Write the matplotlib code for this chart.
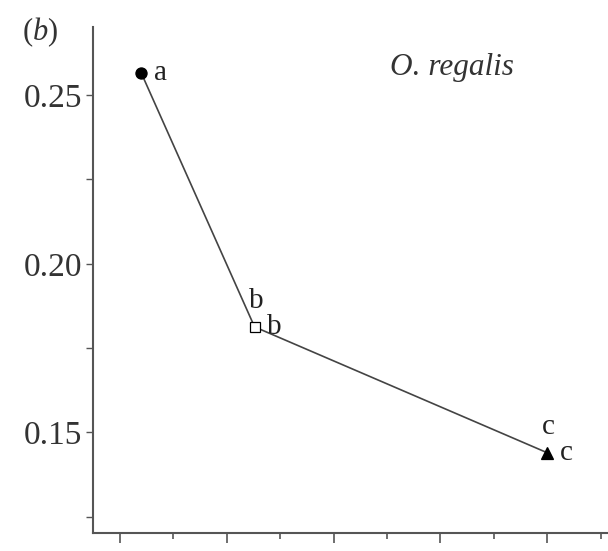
import matplotlib
matplotlib.use("Agg")
import matplotlib.pyplot as plt
from matplotlib.ticker import MultipleLocator, NullFormatter

plt.rcParams['font.family'] = ['Liberation Serif', 'DejaVu Serif']
plt.rcParams['mathtext.fontset'] = 'custom'
plt.rcParams['mathtext.rm'] = 'Liberation Serif'
plt.rcParams['mathtext.it'] = 'Liberation Serif:italic'

# data
x_vals = [0.2, 1.26, 4.0]
y_vals = [0.2565, 0.1813, 0.144]
markers = ['o', 's', '^']
filled = [True, False, True]
labels_right = ['a', 'b', 'c']
labels_top = [None, 'b', 'c']
y_ticks = [0.15, 0.20, 0.25]
y_ticklabels = ['0.15', '0.20', '0.25']
species = 'O. regalis'
panel = r'($\mathit{b}$)'

fig = plt.figure(figsize=(6.08, 5.51), dpi=100)
ax = fig.add_axes([93/608, 18/551, 1 - 93/608, (533-27)/551])

ax.plot(x_vals, y_vals, color='#444444', lw=1.2, zorder=1)
for x, y, m, f in zip(x_vals, y_vals, markers, filled):
    ms = {'o': 8, 's': 7.5, '^': 9}[m]
    ax.plot([x], [y], marker=m, ms=ms, mfc='black' if f else 'white',
            mec='black', mew=0.9, ls='none', zorder=3)

for x, y, lr, lt in zip(x_vals, y_vals, labels_right, labels_top):
    ax.annotate(lr, (x, y), xytext=(9, 0), textcoords='offset points',
                ha='left', va='center', fontsize=21, color='#222222')
    if lt:
        ax.annotate(lt, (x, y), xytext=(1, 9), textcoords='offset points',
                    ha='center', va='bottom', fontsize=21, color='#222222')

ax.set_xlim(-0.253, 4.57)
ax.set_ylim(0.1202, 0.2702)

ax.set_yticks(y_ticks)
ax.set_yticklabels(y_ticklabels, fontsize=24, color='#333333')
ax.yaxis.set_minor_locator(MultipleLocator(0.025))
ax.xaxis.set_major_locator(MultipleLocator(1.0))
ax.xaxis.set_minor_locator(MultipleLocator(0.5))
ax.xaxis.set_major_formatter(NullFormatter())

for s in ['top', 'right']:
    ax.spines[s].set_visible(False)
for s in ['left', 'bottom']:
    ax.spines[s].set_color('#555555')
    ax.spines[s].set_linewidth(1.5)

ax.tick_params(axis='y', which='both', direction='out', length=5, width=1, color='#555555', pad=3)
ax.tick_params(axis='x', which='major', direction='out', length=7, width=1.2, color='#555555')
ax.tick_params(axis='x', which='minor', direction='out', length=4, width=1.2, color='#555555')

ax.text(0.577, 0.92, species, transform=ax.transAxes, fontsize=22.5, style='italic',
        color='#333333', ha='left', va='center')
fig.text(22/608, 1 - 32/551, panel, fontsize=22, color='#333333', ha='left', va='center')

fig.savefig('out.png', dpi=100)
